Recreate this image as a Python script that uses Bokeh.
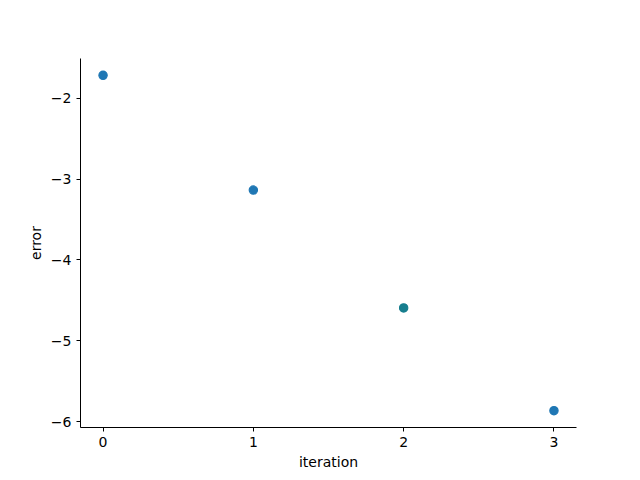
from bokeh.plotting import figure
from bokeh.models import FixedTicker, CustomJSTickFormatter, Range1d
from bokeh.embed import file_html
from bokeh.resources import INLINE

iteration = [0, 1, 2, 3]
error = [-1.715, -3.136, -4.594, -5.866]
point_colors = ["#1f77b4", "#1f77b4", "#177e8e", "#1f77b4"]
x_ticks = [0, 1, 2, 3]
y_ticks = [-6, -5, -4, -3, -2]

p = figure(frame_width=496, frame_height=369,
           output_backend="svg", toolbar_location=None,
           x_range=Range1d(-0.15, 3.15), y_range=Range1d(-6.0735, -1.5075),
           min_border_left=80, min_border_top=58, min_border_right=48, min_border_bottom=40)
p.background_fill_color = "white"
p.border_fill_color = "white"
p.outline_line_color = None
p.xgrid.grid_line_color = None
p.ygrid.grid_line_color = None

p.scatter(iteration, error, size=8.3, color=point_colors, line_width=1.2)

fmt = CustomJSTickFormatter(code="return tick.toFixed(0).replace('-', '\u2212');")
for ax, ticks, label in ((p.xaxis[0], x_ticks, "iteration"), (p.yaxis[0], y_ticks, "error")):
    ax.ticker = FixedTicker(ticks=ticks)
    ax.formatter = fmt
    ax.axis_label = label
    ax.axis_label_text_font = "DejaVu Sans"
    ax.axis_label_text_font_size = "14px"
    ax.axis_label_text_font_style = "normal"
    ax.axis_label_text_color = "black"
    ax.major_label_text_font = "DejaVu Sans"
    ax.major_label_text_font_size = "14px"
    ax.major_label_text_color = "black"
    ax.axis_line_color = "black"
    ax.axis_line_width = 1
    ax.major_tick_line_color = "black"
    ax.major_tick_out = 4
    ax.major_tick_in = 0
    ax.minor_tick_line_color = None
    ax.major_label_standoff = 5

p.xaxis.axis_label_standoff = 4
p.yaxis.axis_label_standoff = 4

open("out.html", "w").write(file_html(p, INLINE))
